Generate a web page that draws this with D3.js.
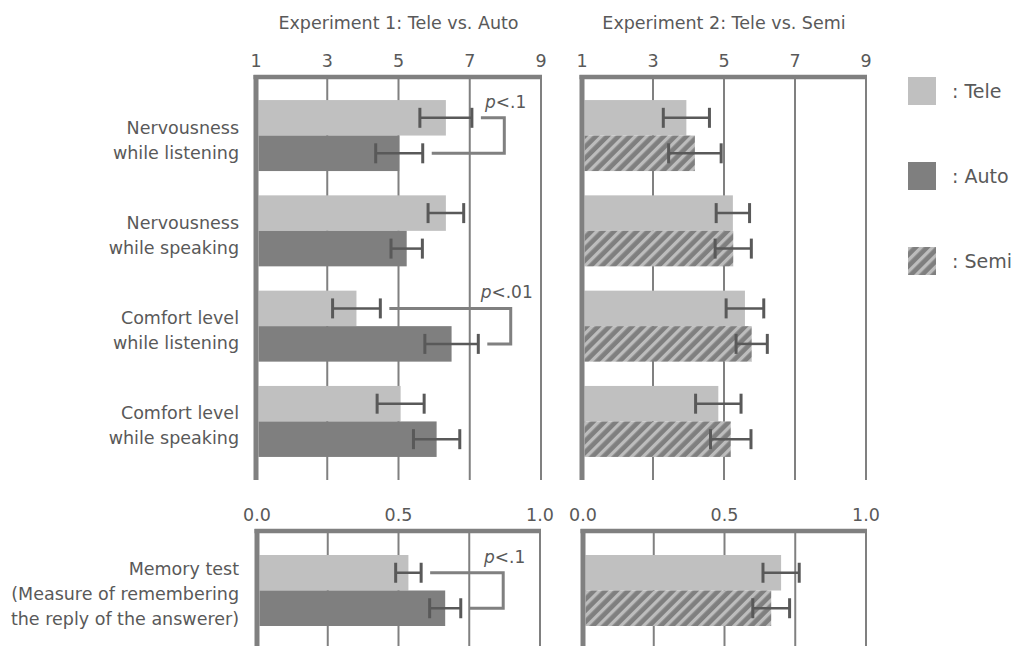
<!DOCTYPE html>
<html>
<head>
<meta charset="utf-8">
<script src="https://cdn.jsdelivr.net/npm/d3@7"></script>
<style>
  body { margin: 0; background: #fff; }
  text { font-family: "DejaVu Sans", Verdana, sans-serif; fill: #595959; }
</style>
</head>
<body>
<svg id="chart" width="1012" height="646"></svg>
<script>
// ---- data ----
const categories = [
  ["Nervousness", "while listening"],
  ["Nervousness", "while speaking"],
  ["Comfort level", "while listening"],
  ["Comfort level", "while speaking"]
];
const memoryCategory = [["Memory test", "(Measure of remembering", "the reply of the answerer)"]];

const exp1Tele = [6.33, 6.33, 3.82, 5.06];
const exp1TeleErr = [0.73, 0.50, 0.67, 0.66];
const exp1Auto = [5.02, 5.23, 6.49, 6.07];
const exp1AutoErr = [0.66, 0.44, 0.75, 0.65];

const exp2Tele = [3.94, 5.25, 5.59, 4.84];
const exp2TeleErr = [0.65, 0.47, 0.53, 0.64];
const exp2Semi = [4.18, 5.26, 5.78, 5.19];
const exp2SemiErr = [0.74, 0.51, 0.44, 0.57];

const memTele = [0.535, 0.70];
const memTeleErr = [0.045, 0.064];
const memOther = [0.665, 0.665]; // Auto (exp 1), Semi (exp 2)
const memOtherErr = [0.055, 0.065];

const scaleTicks = [1, 3, 5, 7, 9];
const memTicks = [0, 0.25, 0.5, 0.75, 1];
const memTickLabels = ["0.0", "", "0.5", "", "1.0"];

// significance brackets: group index, label, where the bracket spine sits (value)
const exp1Sig = [{ i: 0, label: "<.1", at: 7.97 }, { i: 2, label: "<.01", at: 8.15 }];
const memSig = [{ i: 0, label: "<.1", at: 0.87 }];

const legendItems = [
  { name: "Tele", fill: "#c0c0c0" },
  { name: "Auto", fill: "#7f7f7f" },
  { name: "Semi", fill: "url(#hatch)" }
];

const svg = d3.select("#chart");

// hatch pattern for Semi
const defs = svg.append("defs");
const pat = defs.append("pattern")
  .attr("id", "hatch")
  .attr("patternUnits", "userSpaceOnUse")
  .attr("width", 8).attr("height", 8)
  .attr("patternTransform", "rotate(45)");
pat.append("rect").attr("width", 8).attr("height", 8).attr("fill", "#7f7f7f");
pat.append("rect").attr("x", 0).attr("width", 3.3).attr("height", 8).attr("fill", "#bdbdbd");

const GRID = "#808080";
const ERR = "#595959";

function drawPanel(opts) {
  const { domain, xRange, yRange, gridValues, tickValues, tickLabels, cats, series, sig, title, labels } = opts;
  const g = svg.append("g");
  const x = d3.scaleLinear().domain(domain).range(xRange);
  const y = d3.scaleBand().domain(d3.range(cats.length)).range(yRange)
    .paddingInner(0.255).paddingOuter(0.242);
  if (cats.length === 1) y.paddingInner(0).paddingOuter(0.338);
  const ySub = d3.scaleBand().domain(d3.range(series.length)).range([0, y.bandwidth()]);

  const top = yRange[0], bottom = yRange[1];

  // grid lines
  g.selectAll(".grid").data(gridValues.filter(v => v !== domain[0])).join("line")
    .attr("x1", d => x(d)).attr("x2", d => x(d))
    .attr("y1", top).attr("y2", bottom)
    .attr("stroke", GRID).attr("stroke-width", 2);

  // tick labels
  g.selectAll(".tick").data(tickValues).join("text")
    .attr("x", d => x(d)).attr("y", top - 10)
    .attr("text-anchor", "middle")
    .attr("font-size", 17.5)
    .text((d, i) => tickLabels ? tickLabels[i] : d);

  if (title) {
    g.append("text")
      .attr("x", (xRange[0] + xRange[1]) / 2).attr("y", 29)
      .attr("text-anchor", "middle").attr("font-size", 17.5)
      .text(title);
  }

  // bars
  const x0 = x(domain[0]) + 2.5;
  series.forEach((s, si) => {
    g.selectAll(".bar" + si).data(s.values).join("rect")
      .attr("x", x0)
      .attr("y", (d, i) => y(i) + ySub(si))
      .attr("width", d => x(d) - x0)
      .attr("height", ySub.bandwidth())
      .attr("fill", s.fill);
  });

  // error bars
  series.forEach((s, si) => {
    const eg = g.selectAll(".err" + si).data(s.values).join("g")
      .attr("transform", (d, i) => `translate(0,${y(i) + ySub(si) + ySub.bandwidth() / 2})`);
    eg.append("line")
      .attr("x1", (d, i) => x(d - s.err[i])).attr("x2", (d, i) => x(d + s.err[i]))
      .attr("stroke", ERR).attr("stroke-width", 2.5);
    [-1, 1].forEach(sgn => {
      eg.append("line")
        .attr("x1", (d, i) => x(d + sgn * s.err[i])).attr("x2", (d, i) => x(d + sgn * s.err[i]))
        .attr("y1", -10).attr("y2", 10)
        .attr("stroke", ERR).attr("stroke-width", 3);
    });
  });

  // frame: thick top line and left axis
  g.append("line")
    .attr("x1", x(domain[0]) - 2.5).attr("x2", x(domain[1]) + 1)
    .attr("y1", top).attr("y2", top)
    .attr("stroke", GRID).attr("stroke-width", 4.5);
  g.append("line")
    .attr("x1", x(domain[0])).attr("x2", x(domain[0]))
    .attr("y1", top - 2).attr("y2", bottom)
    .attr("stroke", GRID).attr("stroke-width", 5);

  // significance brackets
  (sig || []).forEach(b => {
    const i = b.i;
    const ya = y(i) + ySub(0) + ySub.bandwidth() / 2;
    const yb = y(i) + ySub(1) + ySub.bandwidth() / 2;
    const xa = x(series[0].values[i] + series[0].err[i]) + 9;
    const xb = x(series[1].values[i] + series[1].err[i]) + 9;
    const xr = x(b.at);
    g.append("path")
      .attr("d", `M${xa},${ya}H${xr}V${yb}H${xb}`)
      .attr("fill", "none").attr("stroke", GRID).attr("stroke-width", 3);
    const t = g.append("text")
      .attr("x", xr + 22).attr("y", ya - 10)
      .attr("text-anchor", "end").attr("font-size", 17);
    t.append("tspan").attr("font-style", "italic").text("p");
    t.append("tspan").text(b.label);
  });

  // category labels
  if (labels) {
    cats.forEach((lines, i) => {
      const cy = y(i) + y.bandwidth() / 2;
      const n = lines.length;
      const first = n === 2 ? cy - 2 : cy - 15.5;
      const t = g.append("text").attr("text-anchor", "end").attr("font-size", 17.5);
      lines.forEach((ln, k) => {
        t.append("tspan").attr("x", 239).attr("y", first + k * 25).text(ln);
      });
    });
  }
}

drawPanel({
  domain: [1, 9], xRange: [256, 541], yRange: [77, 480],
  gridValues: scaleTicks, tickValues: scaleTicks,
  cats: categories, labels: true,
  title: "Experiment 1: Tele vs. Auto",
  series: [
    { values: exp1Tele, err: exp1TeleErr, fill: "#c0c0c0" },
    { values: exp1Auto, err: exp1AutoErr, fill: "#7f7f7f" }
  ],
  sig: exp1Sig
});

drawPanel({
  domain: [1, 9], xRange: [582, 866], yRange: [77, 480],
  gridValues: scaleTicks, tickValues: scaleTicks,
  cats: categories, labels: false,
  title: "Experiment 2: Tele vs. Semi",
  series: [
    { values: exp2Tele, err: exp2TeleErr, fill: "#c0c0c0" },
    { values: exp2Semi, err: exp2SemiErr, fill: "url(#hatch)" }
  ]
});

drawPanel({
  domain: [0, 1], xRange: [257, 540], yRange: [531, 650],
  gridValues: memTicks, tickValues: memTicks.filter((d, i) => memTickLabels[i]),
  tickLabels: memTickLabels.filter(d => d),
  cats: memoryCategory, labels: true,
  series: [
    { values: memTele.slice(0, 1), err: memTeleErr.slice(0, 1), fill: "#c0c0c0" },
    { values: memOther.slice(0, 1), err: memOtherErr.slice(0, 1), fill: "#7f7f7f" }
  ],
  sig: memSig
});

drawPanel({
  domain: [0, 1], xRange: [583, 866], yRange: [531, 650],
  gridValues: memTicks, tickValues: memTicks.filter((d, i) => memTickLabels[i]),
  tickLabels: memTickLabels.filter(d => d),
  cats: memoryCategory, labels: false,
  series: [
    { values: memTele.slice(1), err: memTeleErr.slice(1), fill: "#c0c0c0" },
    { values: memOther.slice(1), err: memOtherErr.slice(1), fill: "url(#hatch)" }
  ]
});

// legend
const leg = svg.append("g").selectAll("g").data(legendItems).join("g")
  .attr("transform", (d, i) => `translate(908,${77 + i * 85})`);
leg.append("rect").attr("width", 28).attr("height", 28).attr("fill", d => d.fill);
leg.append("text").attr("x", 44).attr("y", 21).attr("font-size", 19)
  .text(d => ": " + d.name);
</script>
</body>
</html>
